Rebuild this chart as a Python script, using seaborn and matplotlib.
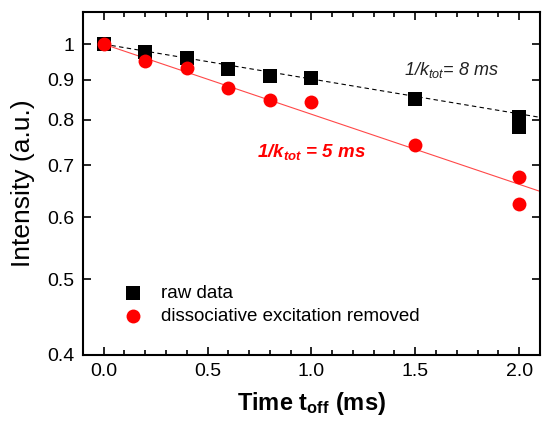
import matplotlib

matplotlib.use("Agg")

import matplotlib.pyplot as plt
import pandas as pd
import seaborn as sns
from matplotlib.ticker import FixedLocator, FormatStrFormatter, MultipleLocator, NullLocator

t_raw = [0.0, 0.2, 0.4, 0.6, 0.8, 1.0, 1.5, 2.0, 2.0]
i_raw = [1.0, 0.976, 0.960, 0.929, 0.910, 0.906, 0.850, 0.807, 0.784]

t_clean = [0.0, 0.2, 0.4, 0.6, 0.8, 1.0, 1.5, 2.0, 2.0]
i_clean = [1.0, 0.952, 0.933, 0.878, 0.848, 0.842, 0.743, 0.675, 0.624]

# Fit-Geraden (im log-Plot Geraden, Endpunkte)
t_fit = [0.0, 2.1]
i_fit_raw = [1.0, 0.806]
i_fit_clean = [1.0, 0.648]

y_ticks = [0.4, 0.5, 0.6, 0.7, 0.8, 0.9, 1.0]
y_ticklabels = ["0.4", "0.5", "0.6", "0.7", "0.8", "0.9", "1"]

sns.set_style("ticks")
plt.rcParams["font.family"] = ["Liberation Sans", "DejaVu Sans"]
plt.rcParams["mathtext.fontset"] = "custom"
plt.rcParams["mathtext.rm"] = "Liberation Sans"
plt.rcParams["mathtext.it"] = "Liberation Sans:italic"
plt.rcParams["mathtext.bf"] = "Liberation Sans:bold"
plt.rcParams["mathtext.bfit"] = "Liberation Sans:bold:italic"
for key in ["text.color", "axes.labelcolor", "xtick.color", "ytick.color", "axes.edgecolor"]:
    plt.rcParams[key] = "black"

df_raw = pd.DataFrame({"t": t_raw, "I": i_raw})
df_clean = pd.DataFrame({"t": t_clean, "I": i_clean})
df_fit = pd.DataFrame({"t": t_fit, "raw": i_fit_raw, "clean": i_fit_clean})

fig = plt.figure(figsize=(5.42, 4.23), dpi=100)
ax = fig.add_axes([0.153, 0.161, 0.843, 0.811])

# Fit-Linien
sns.lineplot(data=df_fit, x="t", y="raw", ax=ax, color="black", linestyle=(0, (4, 3)),
             linewidth=0.8, zorder=2)
sns.lineplot(data=df_fit, x="t", y="clean", ax=ax, color="#ff4848", linewidth=0.8, zorder=2)

# Messpunkte
sns.scatterplot(data=df_raw, x="t", y="I", ax=ax, marker="s", s=95, color="black",
                edgecolor=None, linewidth=0, label="raw data", zorder=3)
sns.scatterplot(data=df_clean, x="t", y="I", ax=ax, marker="o", s=100, color="red",
                edgecolor=None, linewidth=0, label="dissociative excitation removed", zorder=4)

ax.set_yscale("log")
ax.set_xlim(-0.1, 2.1)
ax.set_ylim(0.4, 1.1)

ax.yaxis.set_major_locator(FixedLocator(y_ticks))
ax.yaxis.set_minor_locator(NullLocator())
ax.set_yticklabels(y_ticklabels)
ax.xaxis.set_major_locator(MultipleLocator(0.5))
ax.xaxis.set_minor_locator(MultipleLocator(0.1))
ax.xaxis.set_major_formatter(FormatStrFormatter("%.1f"))

ax.tick_params(which="both", direction="in", top=True, right=True, width=1.2,
               labelsize=14, pad=6)
ax.tick_params(which="major", length=6)
ax.tick_params(which="minor", length=3.5)
for sp in ax.spines.values():
    sp.set_linewidth(1.5)

ax.set_xlabel(r"Time t$_{\mathbf{off}}$ (ms)", fontsize=17, fontweight="bold", labelpad=7)
ax.set_ylabel("Intensity (a.u.)", fontsize=19, labelpad=9)

# Beschriftungen der Fits
ax.text(1.445, 0.926, r"1/$k_{tot}$= 8 ms", fontsize=13, style="italic",
        color="#222222", va="center", ha="left")
ax.text(0.74, 0.727, r"1/$\mathbfit{k_{tot}}$ = 5 ms", fontsize=13.5, style="italic",
        fontweight="bold", color="red", va="center", ha="left")

ax.legend(loc="upper left", bbox_to_anchor=(0.031, 0.253), frameon=False, fontsize=13.5,
          handletextpad=0.5, labelspacing=0.3, markerscale=1.0)

fig.savefig("out.png", dpi=100)
